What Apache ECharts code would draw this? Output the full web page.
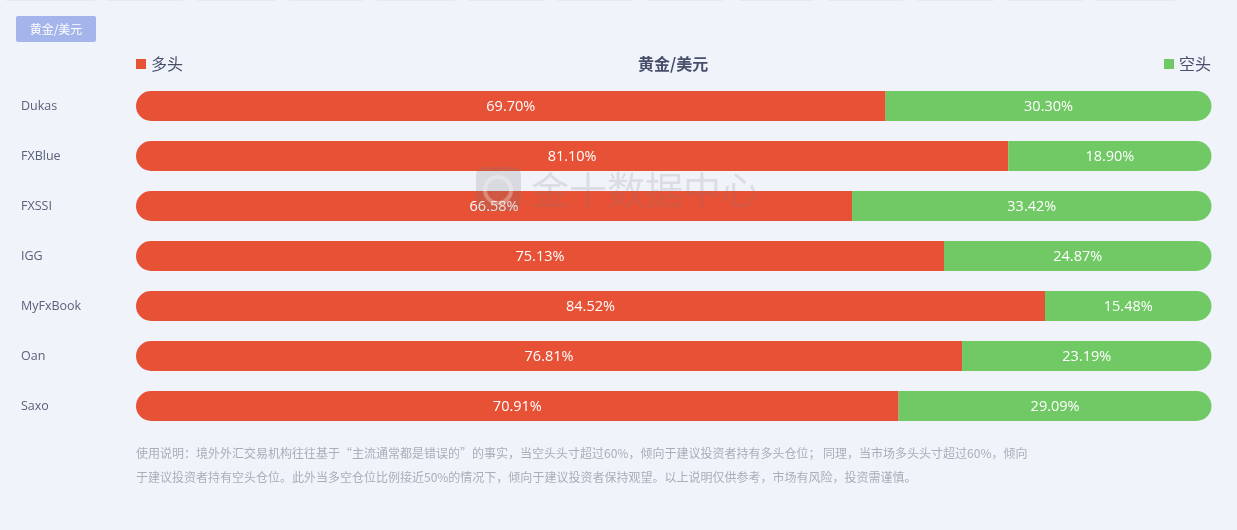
<!DOCTYPE html>
<html>
<head>
<meta charset="utf-8">
<style>
  html, body { margin: 0; padding: 0; background: #f1f3fb; }
  #main { width: 1237px; height: 530px; }
</style>
<script src="https://cdn.jsdelivr.net/npm/echarts@6/dist/echarts.min.js"></script>
</head>
<body>
<div id="main"></div>
<script>
const brokers = ['Dukas', 'FXBlue', 'FXSSI', 'IGG', 'MyFxBook', 'Oan', 'Saxo'];
const longValues = [69.70, 81.10, 66.58, 75.13, 84.52, 76.81, 70.91];
const shortValues = [30.30, 18.90, 33.42, 24.87, 15.48, 23.19, 29.09];
const noteLines = [
    '使用说明：境外外汇交易机构往往基于“主流通常都是错误的”的事实，当空头头寸超过60%，倾向于建议投资者持有多头仓位； 同理，当市场多头头寸超过60%，倾向',
    '于建议投资者持有空头仓位。此外当多空仓位比例接近50%的情况下，倾向于建议投资者保持观望。以上说明仅供参考，市场有风险，投资需谨慎。'
];

const font = '"Noto Sans CJK SC", sans-serif';
const latinFont = '"Open Sans", "Noto Sans CJK SC", sans-serif';

let myChart = echarts.init(document.getElementById('main'));

function barLabel(value) {
    return value.value.toFixed(2) + '%';
}

// faint tab row cut off at the top of the page
let graphics = [[5, 91], [105, 79], [196, 81], [288, 76], [376, 80], [467, 78], [556, 78], [647, 77], [738, 77], [827, 77], [916, 79], [1007, 77], [1095, 81]].map(function (t) {
    return { type: 'rect', shape: { x: t[0], y: -10, width: t[1], height: 11, r: 3 }, style: { fill: '#e6e9f2' } };
});
// button, notes and watermark
graphics.push(
    { type: 'rect', shape: { x: 16, y: 16, width: 80, height: 26, r: 2 }, style: { fill: '#a3b5ea' } },
    { type: 'text', x: 56, y: 29, style: { text: '黄金/美元', fill: '#fff', font: '12px ' + font, textAlign: 'center', textVerticalAlign: 'middle' } },
    { type: 'text', x: 136, y: 453, style: { text: noteLines[0], fill: '#a9adb8', font: '12px ' + font, textVerticalAlign: 'middle' } },
    { type: 'text', x: 136, y: 477, style: { text: noteLines[1], fill: '#a9adb8', font: '12px ' + font, textVerticalAlign: 'middle' } },
    { type: 'rect', z: 100, shape: { x: 476, y: 167, width: 45, height: 44, r: 8 }, style: { fill: 'rgba(120,120,120,0.2)' } },
    { type: 'circle', z: 100, shape: { cx: 498, cy: 190, r: 13 }, style: { fill: 'none', stroke: 'rgba(255,255,255,0.3)', lineWidth: 4 } },
    { type: 'text', z: 100, x: 531, y: 190, style: { text: '金十数据中心', fill: 'rgba(120,120,120,0.18)', font: '38px ' + font, textVerticalAlign: 'middle' } }
);

let option = {
    backgroundColor: '#f1f3fb',
    animation: false,
    textStyle: { fontFamily: font },
    title: {
        text: '黄金/美元',
        left: 633,
        top: 51,
        textStyle: { color: '#474f6b', fontSize: 16, fontWeight: 'bold', fontFamily: font }
    },
    legend: [
        {
            data: ['多头'], left: 131, top: 51, icon: 'rect', itemWidth: 10, itemHeight: 10, itemGap: 5,
            textStyle: { color: '#474f6b', fontSize: 16, fontFamily: font }
        },
        {
            data: ['空头'], right: 21, top: 51, icon: 'rect', itemWidth: 10, itemHeight: 10, itemGap: 5,
            textStyle: { color: '#474f6b', fontSize: 16, fontFamily: font }
        }
    ],
    grid: { left: 136, right: 25.5, top: 81, height: 350 },
    xAxis: { type: 'value', min: 0, max: 100, show: false },
    yAxis: {
        type: 'category',
        inverse: true,
        data: brokers,
        axisLine: { show: false },
        axisTick: { show: false },
        axisLabel: { color: '#5a6178', fontSize: 12.5, align: 'left', margin: 115, lineHeight: 20, fontFamily: latinFont }
    },
    series: [
        {
            name: '多头',
            type: 'bar',
            stack: 'ratio',
            barWidth: 30,
            data: longValues,
            itemStyle: { color: '#e75136', borderRadius: [15, 0, 0, 15] },
            label: { show: true, position: 'inside', offset: [0, 1], color: '#fff', fontSize: 14.5, formatter: barLabel, fontFamily: latinFont }
        },
        {
            name: '空头',
            type: 'bar',
            stack: 'ratio',
            barWidth: 30,
            data: shortValues,
            itemStyle: { color: '#70c965', borderRadius: [0, 15, 15, 0] },
            label: { show: true, position: 'inside', offset: [0, 1], color: '#fff', fontSize: 14.5, formatter: barLabel, fontFamily: latinFont }
        }
    ],
    graphic: graphics
};

myChart.setOption(option);
</script>
</body>
</html>
